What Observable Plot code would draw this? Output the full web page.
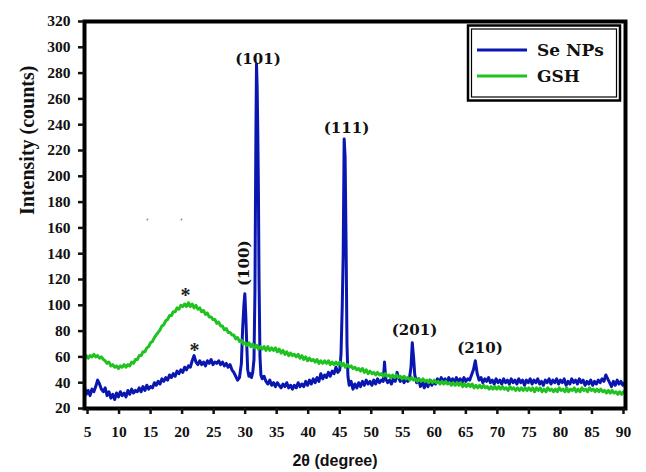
<!DOCTYPE html>
<html><head><meta charset="utf-8">
<script src="https://cdn.jsdelivr.net/npm/d3@7"></script>
<script src="https://cdn.jsdelivr.net/npm/@observablehq/plot@0.6"></script>
<style>body{margin:0;background:#fff}</style>
</head><body><div id="chart"></div>
<script>
const seriesNames = ["Se NPs", "GSH"];
const seriesColors = ["#0a16b0", "#1fc21f"];

// Se NPs XRD pattern [2theta, counts]
const seNPs = [[4.5,37],[4.8,31],[5.1,34],[5.4,30],[5.7,35],[6.0,33],[6.3,37],[6.6,42],[6.9,39],[7.2,35],[7.5,33],[7.8,36],[8.1,30],[8.4,33],[8.7,28],[9.0,31],[9.3,27],[9.6,32],[9.9,29],[10.2,33],[10.5,30],[10.8,32],[11.1,29],[11.4,34],[11.7,31],[12.0,35],[12.3,32],[12.6,34],[12.9,33],[13.2,36],[13.5,33],[13.8,37],[14.1,34],[14.4,38],[14.7,35],[15.0,37],[15.3,36],[15.6,40],[15.9,38],[16.2,41],[16.5,39],[16.8,43],[17.1,41],[17.4,44],[17.7,42],[18.0,46],[18.3,44],[18.6,47],[18.9,45],[19.2,49],[19.5,47],[19.8,50],[20.1,48],[20.4,52],[20.7,50],[21.0,53],[21.3,52],[21.6,57],[21.9,61],[22.2,56],[22.5,54],[22.8,57],[23.1,54],[23.4,56],[23.7,53],[24.0,57],[24.3,55],[24.6,58],[24.9,54],[25.2,56],[25.5,55],[25.8,57],[26.1,54],[26.4,56],[26.7,53],[27.0,55],[27.3,52],[27.6,54],[27.9,50],[28.2,48],[28.5,45],[28.8,42],[29.1,44],[29.4,55],[29.6,82],[29.8,100],[29.95,109],[30.1,92],[30.25,70],[30.4,50],[30.6,45],[30.8,47],[31.0,44],[31.2,48],[31.4,58],[31.55,110],[31.7,230],[31.8,287],[31.9,270],[32.0,235],[32.1,190],[32.2,120],[32.35,60],[32.5,46],[32.7,43],[33.0,45],[33.3,41],[33.6,39],[33.9,42],[34.2,38],[34.5,40],[34.8,37],[35.1,40],[35.4,38],[35.7,36],[36.0,39],[36.3,37],[36.6,40],[36.9,36],[37.2,38],[37.5,35],[37.8,38],[38.1,36],[38.4,40],[38.7,37],[39.0,39],[39.3,37],[39.6,41],[39.9,38],[40.2,42],[40.5,39],[40.8,43],[41.1,40],[41.4,44],[41.7,41],[42.0,47],[42.3,43],[42.6,46],[42.9,44],[43.2,48],[43.5,45],[43.8,49],[44.1,47],[44.4,52],[44.7,48],[45.0,50],[45.2,62],[45.4,100],[45.55,140],[45.7,229],[45.85,215],[46.0,150],[46.15,70],[46.3,45],[46.5,38],[46.8,41],[47.1,35],[47.4,39],[47.7,36],[48.0,40],[48.3,37],[48.6,41],[48.9,38],[49.2,42],[49.5,39],[49.8,41],[50.1,38],[50.4,42],[50.7,39],[51.0,43],[51.3,40],[51.6,42],[51.9,41],[52.1,56],[52.3,43],[52.6,40],[52.9,42],[53.2,39],[53.5,43],[53.8,41],[54.1,48],[54.3,44],[54.6,41],[54.9,44],[55.2,40],[55.5,43],[55.8,41],[56.1,45],[56.3,52],[56.5,71],[56.7,60],[56.9,46],[57.2,40],[57.5,43],[57.8,37],[58.1,41],[58.4,36],[58.7,40],[59.0,37],[59.3,42],[59.6,38],[59.9,41],[60.2,39],[60.5,43],[60.8,40],[61.1,44],[61.4,41],[61.7,43],[62.0,40],[62.3,44],[62.6,41],[62.9,43],[63.2,40],[63.5,44],[63.8,41],[64.1,43],[64.4,40],[64.7,44],[65.0,41],[65.3,43],[65.6,42],[65.9,46],[66.2,50],[66.5,57],[66.8,47],[67.1,42],[67.4,44],[67.7,40],[68.0,43],[68.3,41],[68.6,44],[68.9,40],[69.2,42],[69.5,39],[69.8,43],[70.1,40],[70.4,42],[70.7,39],[71.0,43],[71.3,40],[71.6,42],[71.9,39],[72.2,43],[72.5,40],[72.8,42],[73.1,39],[73.4,43],[73.7,40],[74.0,42],[74.3,38],[74.6,42],[74.9,40],[75.2,43],[75.5,39],[75.8,42],[76.1,40],[76.4,43],[76.7,39],[77.0,41],[77.3,38],[77.6,42],[77.9,40],[78.2,43],[78.5,39],[78.8,42],[79.1,40],[79.4,43],[79.7,39],[80.0,42],[80.3,40],[80.6,43],[80.9,38],[81.2,41],[81.5,39],[81.8,43],[82.1,40],[82.4,42],[82.7,39],[83.0,43],[83.3,40],[83.6,42],[83.9,38],[84.2,41],[84.5,39],[84.8,42],[85.1,38],[85.4,41],[85.7,39],[86.0,42],[86.3,40],[86.6,43],[86.9,41],[87.2,46],[87.5,43],[87.8,40],[88.1,37],[88.4,41],[88.7,38],[89.0,42],[89.3,39],[89.6,41],[89.9,38],[90.2,40]];

// GSH XRD pattern [2theta, counts]
const gsh = [[4.5,58],[4.8,61],[5.1,59],[5.4,61],[5.7,60],[6.0,62],[6.3,60],[6.6,61],[6.9,59],[7.2,60],[7.5,58],[7.8,57],[8.1,55],[8.4,56],[8.7,53],[9.0,54],[9.3,52],[9.6,53],[9.9,51],[10.2,53],[10.5,52],[10.8,54],[11.1,52],[11.4,54],[11.7,53],[12.0,56],[12.3,55],[12.6,58],[12.9,58],[13.2,61],[13.5,61],[13.8,64],[14.1,64],[14.4,67],[14.7,68],[15.0,71],[15.3,72],[15.6,75],[15.9,77],[16.2,79],[16.5,81],[16.8,84],[17.1,85],[17.4,88],[17.7,89],[18.0,92],[18.3,92],[18.6,95],[18.9,95],[19.2,98],[19.5,97],[19.8,100],[20.1,99],[20.4,101],[20.7,99],[21.0,102],[21.3,99],[21.6,101],[21.9,98],[22.2,100],[22.5,97],[22.8,98],[23.1,95],[23.4,96],[23.7,93],[24.0,94],[24.3,91],[24.6,91],[24.9,89],[25.2,89],[25.5,86],[25.8,87],[26.1,84],[26.4,84],[26.7,81],[27.0,82],[27.3,79],[27.6,79],[27.9,77],[28.2,77],[28.5,74],[28.8,75],[29.1,72],[29.4,73],[29.7,70],[30.0,71],[30.3,69],[30.6,71],[30.9,68],[31.2,70],[31.5,67],[31.8,69],[32.1,66],[32.4,68],[32.7,66],[33.0,68],[33.3,65],[33.6,68],[33.9,65],[34.2,67],[34.5,65],[34.8,67],[35.1,64],[35.4,66],[35.7,63],[36.0,65],[36.3,62],[36.6,64],[36.9,61],[37.2,63],[37.5,61],[37.8,62],[38.1,60],[38.4,62],[38.7,59],[39.0,61],[39.3,58],[39.6,60],[39.9,57],[40.2,59],[40.5,57],[40.8,58],[41.1,56],[41.4,58],[41.7,55],[42.0,57],[42.3,55],[42.6,57],[42.9,55],[43.2,57],[43.5,54],[43.8,56],[44.1,54],[44.4,56],[44.7,54],[45.0,56],[45.3,53],[45.6,55],[45.9,52],[46.2,54],[46.5,52],[46.8,53],[47.1,51],[47.4,52],[47.7,50],[48.0,51],[48.3,49],[48.6,51],[48.9,48],[49.2,50],[49.5,47],[49.8,49],[50.1,47],[50.4,48],[50.7,46],[51.0,48],[51.3,46],[51.6,47],[51.9,45],[52.2,47],[52.5,45],[52.8,46],[53.1,44],[53.4,46],[53.7,44],[54.0,46],[54.3,44],[54.6,45],[54.9,43],[55.2,45],[55.5,43],[55.8,44],[56.1,42],[56.4,44],[56.7,42],[57.0,43],[57.3,41],[57.6,43],[57.9,41],[58.2,43],[58.5,41],[58.8,42],[59.1,40],[59.4,42],[59.7,40],[60.0,42],[60.3,40],[60.6,41],[60.9,39],[61.2,41],[61.5,39],[61.8,41],[62.1,39],[62.4,40],[62.7,38],[63.0,40],[63.3,38],[63.6,40],[63.9,38],[64.2,40],[64.5,37],[64.8,39],[65.1,37],[65.4,39],[65.7,37],[66.0,39],[66.3,36],[66.6,38],[66.9,36],[67.2,38],[67.5,36],[67.8,38],[68.1,36],[68.4,37],[68.7,35],[69.0,37],[69.3,35],[69.6,37],[69.9,35],[70.2,37],[70.5,35],[70.8,37],[71.1,35],[71.4,36],[71.7,34],[72.0,37],[72.3,35],[72.6,36],[72.9,34],[73.2,36],[73.5,34],[73.8,36],[74.1,34],[74.4,36],[74.7,34],[75.0,36],[75.3,34],[75.6,36],[75.9,33],[76.2,36],[76.5,34],[76.8,36],[77.1,33],[77.4,35],[77.7,33],[78.0,36],[78.3,34],[78.6,35],[78.9,33],[79.2,35],[79.5,33],[79.8,36],[80.1,34],[80.4,35],[80.7,33],[81.0,36],[81.3,33],[81.6,35],[81.9,34],[82.2,36],[82.5,33],[82.8,35],[83.1,33],[83.4,36],[83.7,34],[84.0,35],[84.3,33],[84.6,36],[84.9,34],[85.2,35],[85.5,33],[85.8,35],[86.1,33],[86.4,35],[86.7,33],[87.0,34],[87.3,32],[87.6,34],[87.9,32],[88.2,34],[88.5,32],[88.8,33],[89.1,31],[89.4,33],[89.7,31],[90.0,33],[90.3,32]];

const xTicks = [5,10,15,20,25,30,35,40,45,50,55,60,65,70,75,80,85,90];
const yTicks = [20,40,60,80,100,120,140,160,180,200,220,240,260,280,300,320];

// peak annotations (Miller indices) at [2theta, counts] of label baseline
const peakLabels = ["(101)", "(111)", "(201)", "(210)"];
const peakTheta = [32.04, 46.07, 56.86, 67.24];
const peakCounts = [287, 233.5, 76.7, 62.7];
const vertLabel = ["(100)"];
const vertTheta = [29.82];
const vertCounts = [132.6];
const starTheta = [20.54, 21.97];
const starCounts = [102.5, 59.8];
const specks = [[14.5,166.5],[19.9,166.5]];

const serifFont = "'Liberation Serif', 'Times New Roman', serif";
const labelFont = "'DejaVu Serif', serif";

const rowsOf = (arr, name) => arr.map(([t, c]) => ({series: name, t, c}));
const seRows = rowsOf(seNPs, seriesNames[0]);
const gshRows = rowsOf(gsh, seriesNames[1]);
const peaks = peakLabels.map((l, i) => ({l, t: peakTheta[i], c: peakCounts[i]}));
const verts = vertLabel.map((l, i) => ({l, t: vertTheta[i], c: vertCounts[i]}));
const stars = starTheta.map((t, i) => ({t, c: starCounts[i]}));

const chart = Plot.plot({
  width: 646, height: 472,
  marginLeft: 84, marginRight: 21, marginTop: 21, marginBottom: 64,
  x: {domain: [4.52, 90.32]},
  y: {domain: [20, 320]},
  style: {fontFamily: serifFont, fontWeight: "bold", fontSize: "15px", color: "#111", background: "white", overflow: "visible"},
  marks: [
    Plot.dot(specks, {x: d => d[0], y: d => d[1], r: 0.9, fill: "#8a8a8a", stroke: null}),
    Plot.line(seRows, {x: "t", y: "c", stroke: seriesColors[0], strokeWidth: 3, clip: true}),
    Plot.line(gshRows, {x: "t", y: "c", stroke: seriesColors[1], strokeWidth: 3, clip: true}),
    Plot.frame({stroke: "black", strokeWidth: 4}),
    Plot.axisX({ticks: xTicks, tickSize: 6, tickPadding: 11, strokeWidth: 2.5, label: null, tickFormat: d => String(d), fontFamily: serifFont, fontSize: 15.5, fontWeight: "bold", fill: "#111"}),
    Plot.axisY({ticks: yTicks, tickSize: 6, tickPadding: 8, strokeWidth: 2.5, label: null, tickFormat: d => String(d), fontFamily: serifFont, fontSize: 15.5, fontWeight: "bold", fill: "#111"}),
    Plot.text(peaks, {x: "t", y: "c", text: "l", lineAnchor: "bottom", fontFamily: labelFont, fontWeight: "bold", fontSize: 15, fill: "#111"}),
    Plot.text(verts, {x: "t", y: "c", text: "l", rotate: -90, lineAnchor: "middle", fontFamily: labelFont, fontWeight: "bold", fontSize: 15, fill: "#111"}),
    Plot.text(stars, {x: "t", y: "c", text: () => "*", lineAnchor: "bottom", fontFamily: serifFont, fontWeight: "bold", fontSize: 20, fill: "#222"}),
    Plot.text(["Intensity (counts)"], {frameAnchor: "left", dx: -57, rotate: -90, lineAnchor: "middle", fontFamily: serifFont, fontSize: 20, fontWeight: "bold", fill: "#111"}),
    Plot.text(["2θ (degree)"], {frameAnchor: "bottom", dx: -20, dy: 57, lineAnchor: "bottom", fontFamily: "'Liberation Sans', Arial, sans-serif", fontSize: 16, fontWeight: "bold", fill: "#111"})
  ]
});

// legend inside the plot (top right)
const svg = d3.select(chart);
const lg = svg.append("g").attr("text-anchor", "start");
lg.append("rect").attr("x", 468).attr("y", 25.5).attr("width", 152).attr("height", 75).attr("fill", "white").attr("stroke", "black").attr("stroke-width", 2.5);
lg.append("rect").attr("x", 471.5).attr("y", 29).attr("width", 145).attr("height", 68).attr("fill", "none").attr("stroke", "black").attr("stroke-width", 1.2);
seriesNames.forEach((name, i) => {
  const y = 50 + i * 26;
  lg.append("line").attr("x1", 477).attr("x2", 527).attr("y1", y).attr("y2", y).attr("stroke", seriesColors[i]).attr("stroke-width", 3);
  lg.append("text").attr("x", 537).attr("y", y + 6).attr("text-anchor", "start").attr("font-family", labelFont).attr("font-weight", "bold").attr("font-size", 17).attr("fill", "#111").text(name);
});

document.getElementById("chart").appendChild(chart);
</script>
</body></html>
